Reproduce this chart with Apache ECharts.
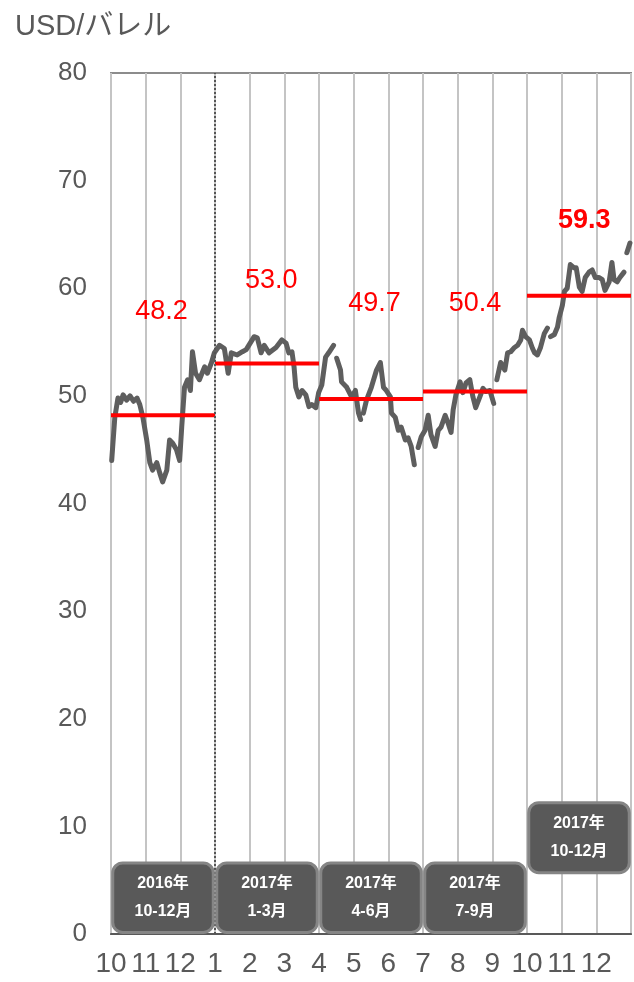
<!DOCTYPE html>
<html>
<head>
<meta charset="utf-8">
<script src="https://cdn.jsdelivr.net/npm/echarts@6/dist/echarts.min.js"></script>
<style>
  html, body { margin: 0; padding: 0; background: #fff; }
  #charts { width: 634px; height: 982px; }
</style>
</head>
<body>
<div id="charts"></div>
<script>
// 月ラベル (2016/10 - 2017/12)
const months = ['10', '11', '12', '1', '2', '3', '4', '5', '6', '7', '8', '9', '10', '11', '12']

// 日次価格: 月インデックス (0 = 2016/10/1) と USD/バレル, null は欠損
const priceMonth = [
  0.02, 0.11, 0.20, 0.28, 0.35, 0.45, 0.55, 0.65, 0.75, 0.83, 0.92,
  1.03, 1.12, 1.20, 1.32, 1.41, 1.49, 1.61, 1.69, 1.78, 1.89, 1.98,
  2.04, 2.12, 2.21, 2.29, 2.35, 2.44, 2.55, 2.70, 2.78, 2.90, 2.98,
  3.13, 3.27, 3.38, 3.47, 3.64, 3.79, 3.90, 4.13, 4.22, 4.33, 4.42, 4.56, 4.76, 4.93,
  5.05, 5.13, 5.22, 5.28, 5.33, 5.42, 5.51, 5.62, 5.71, 5.79, 5.91, 5.99,
  6.08, 6.19, 6.28, 6.42, 6.46, 6.51, 6.62, 6.65, 6.80, 6.94,
  7.05, 7.14, 7.20, 7.24, 7.28, 7.37, 7.51, 7.66, 7.77, 7.86, 7.94,
  8.06, 8.09, 8.20, 8.29, 8.37, 8.49, 8.57, 8.66, 8.75, 8.80, 8.86, 8.95,
  9.06, 9.15, 9.23, 9.35, 9.44, 9.52, 9.64, 9.72, 9.81, 9.87, 9.95,
  10.07, 10.15, 10.24, 10.35, 10.44, 10.52, 10.64, 10.73, 10.81, 10.93,
  11.04, 11.08, 11.13, 11.24, 11.36, 11.44, 11.53, 11.64, 11.73, 11.82, 11.87, 11.96,
  12.07, 12.16, 12.22, 12.30, 12.39, 12.50, 12.59, 12.63, 12.68, 12.79, 12.88, 12.93,
  13.02, 13.08, 13.16, 13.25, 13.36, 13.42, 13.51, 13.59, 13.68, 13.79, 13.88, 13.97,
  14.08, 14.17, 14.25, 14.37, 14.45, 14.51, 14.60, 14.68, 14.80, 14.84, 14.88, 14.97
]
const priceUSD = [
  44.0, 48.0, 49.8, 49.4, 50.1, 49.6, 50.0, 49.5, 49.8, 49.2, 48.0,
  45.9, 43.8, 43.1, 43.8, 42.8, 42.0, 43.1, 45.9, 45.6, 45.0, 44.0,
  47.1, 50.8, 51.5, 50.5, 54.1, 52.1, 51.5, 52.7, 52.1, 53.1, 54.0,
  54.7, 54.4, 52.1, 54.0, 53.8, 54.1, 54.3, 55.5, 55.4, 54.0, 54.7, 54.0, 54.5, 55.2,
  54.9, 54.0, 54.1, 52.7, 50.8, 49.9, 50.5, 50.1, 49.0, 49.2, 48.9, 50.3,
  51.0, 53.6, 54.0, 54.7, null, 53.5, 52.4, 51.3, 50.8, 49.9,
  50.5, 48.4, 47.8, null, 48.4, 49.6, 50.8, 52.4, 53.1, 50.8, 50.5,
  49.9, 48.4, 48.0, 46.8, 47.1, 45.9, 46.1, 45.3, 43.6, null, 45.2, 46.2,
  46.8, 48.2, 46.4, 45.3, 46.8, 47.1, 48.2, 47.5, 46.6, 48.7, 50.1,
  51.3, 50.3, 51.2, 51.5, 49.9, 48.9, 49.9, 50.7, 50.4, 50.5,
  49.3, null, 51.5, 53.1, 52.4, 54.0, 54.1, 54.5, 54.7, 55.2, 56.1, 55.5,
  55.2, 54.4, 54.0, 53.8, 54.5, 55.8, 56.3, null, 55.5, 55.7, 56.4, 57.3,
  58.4, 59.7, 60.0, 62.2, 61.9, 61.9, 60.1, 59.7, 61.0, 61.5, 61.7, 61.0,
  61.0, 60.8, 59.8, 60.6, 62.4, 60.8, 60.6, 61.0, 61.5, null, 63.3, 64.2
]

// 四半期平均
const quarterAvg = [48.2, 53.0, 49.7, 50.4, 59.3]
const quarterNames = ['2016年\n10-12月', '2017年\n1-3月', '2017年\n4-6月', '2017年\n7-9月', '2017年\n10-12月']

// 平均値ラベルの置き場所 (x: 月, y: 値)
const avgLabelAt = [[1.46, 57.8], [4.62, 60.7], [7.6, 58.6], [10.5, 58.6], [13.65, 66.3]]

const gray = '#595959'
const font = "'Liberation Sans', 'Noto Sans CJK JP', sans-serif"

let myChart = echarts.init(document.getElementById('charts'))

let option = {
    animation: false,
    title: {
        text: 'USD/バレル',
        left: 10,
        top: 7,
        textStyle: { fontFamily: font, fontSize: 29, fontWeight: 'normal', color: gray }
    },
    grid: {
        left: 111, right: 0, top: 73, bottom: 48,
        show: true, borderColor: '#8c8c8c', borderWidth: 2, backgroundColor: 'transparent'
    },
    xAxis: {
        type: 'value',
        min: 0, max: 15, interval: 1,
        axisLine: { show: true, lineStyle: { color: gray, width: 2 } },
        axisTick: { show: false },
        splitLine: { show: true, lineStyle: { color: '#c4c4c4', width: 2 } },
        axisLabel: {
            margin: 16,
            fontFamily: "'Liberation Sans Narrow', 'Liberation Sans', sans-serif",
            fontSize: 28, color: gray,
            formatter: v => months[v] || ''
        }
    },
    yAxis: {
        type: 'value',
        min: 0, max: 80, interval: 10,
        axisLine: { show: false },
        axisTick: { show: false },
        splitLine: { show: false },
        axisLabel: { margin: 24, fontFamily: font, fontSize: 26, color: gray }
    },
    series: [
        {
            name: '価格',
            type: 'line',
            data: priceMonth.map((m, i) => [m, priceUSD[i] == null ? '-' : priceUSD[i]]),
            showSymbol: false,
            connectNulls: false,
            lineStyle: { color: '#5e5e5e', width: 5, join: 'round', cap: 'round' },
            z: 3,
            markLine: {
                silent: true,
                symbol: 'none',
                label: { show: false },
                lineStyle: { type: [2, 2], color: '#555', width: 2 },
                data: [{ xAxis: 3 }]
            }
        },
        {
            name: '平均',
            type: 'custom',
            z: 4,
            data: quarterAvg.map((v, i) => [i, v]),
            renderItem: (params, api) => {
                const q = api.value(0), v = api.value(1)
                const a = api.coord([q * 3, v])
                const b = api.coord([q * 3 + 3, v])
                const t = api.coord(avgLabelAt[q])
                const last = q === quarterAvg.length - 1
                return {
                    type: 'group',
                    children: [
                        {
                            type: 'line',
                            shape: { x1: a[0], y1: a[1], x2: b[0], y2: b[1] },
                            style: { stroke: '#ff0000', lineWidth: 4 }
                        },
                        {
                            type: 'text',
                            style: {
                                text: v.toFixed(1), x: t[0], y: t[1],
                                align: 'center', verticalAlign: 'middle',
                                fill: '#ff0000',
                                font: (last ? 'bold ' : '') + '27px ' + font
                            }
                        }
                    ]
                }
            }
        },
        {
            name: '四半期',
            type: 'custom',
            z: 5,
            data: quarterNames.map((n, i) => [i]),
            renderItem: (params, api) => {
                const q = params.dataIndex
                const raised = q === quarterNames.length - 1
                const lo = raised ? 5.7 : 0.15, hi = raised ? 12.2 : 6.6
                const p0 = api.coord([q * 3 + 0.05, hi])
                const p1 = api.coord([q * 3 + 2.95, lo])
                return {
                    type: 'group',
                    children: [
                        {
                            type: 'rect',
                            shape: { x: p0[0], y: p0[1], width: p1[0] - p0[0], height: p1[1] - p0[1], r: 10 },
                            style: { fill: '#595959', stroke: '#858585', lineWidth: 3 }
                        },
                        {
                            type: 'text',
                            style: {
                                text: quarterNames[q],
                                x: (p0[0] + p1[0]) / 2, y: (p0[1] + p1[1]) / 2,
                                align: 'center', verticalAlign: 'middle',
                                fill: '#fff', lineHeight: 28,
                                font: 'bold 16px ' + font
                            }
                        }
                    ]
                }
            }
        }
    ]
}

myChart.setOption(option)
</script>
</body>
</html>
